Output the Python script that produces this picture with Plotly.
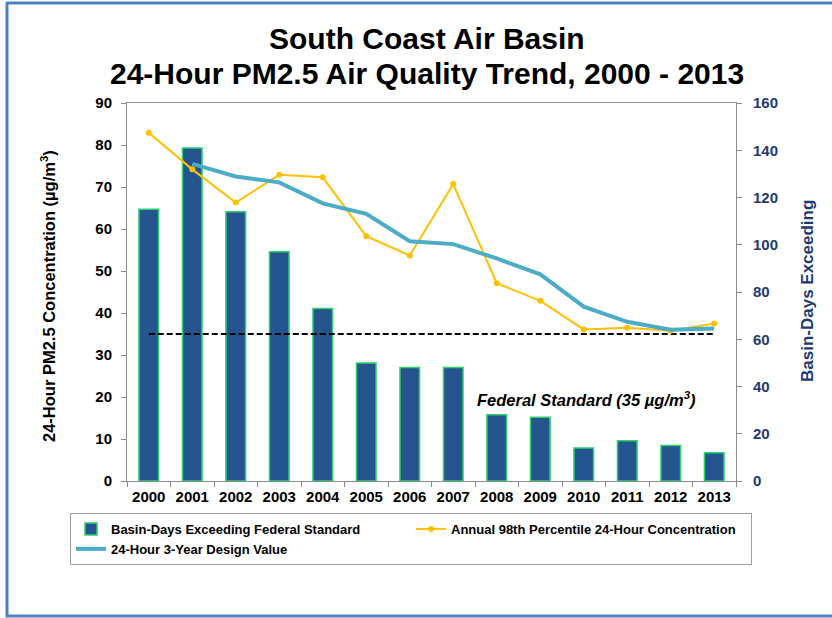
import plotly.graph_objects as go

years = [str(y) for y in range(2000, 2014)]
basin_days = [115, 141, 114, 97, 73, 50, 48, 48, 28, 27, 14, 17, 15, 12]
annual_98th = [82.9, 74.2, 66.3, 72.9, 72.3, 58.3, 53.7, 70.7, 47.1, 42.9, 36.1, 36.5, 35.8, 37.5]
design_years = [str(y) for y in range(2001, 2014)]
design_value = [75.5, 72.5, 71.1, 66.1, 63.6, 57.1, 56.4, 53.0, 49.2, 41.5, 37.9, 36.0, 36.3]
federal_standard = 35
left_ticks = list(range(0, 91, 10))
right_ticks = list(range(0, 161, 20))

FONT = "Liberation Sans, Arial, sans-serif"
NAVY = "#1f3a6e"

fig = go.Figure()
fig.add_trace(go.Bar(
    x=years, y=basin_days, name="Basin-Days Exceeding Federal Standard",
    marker=dict(color="#25558f", line=dict(color="#2fd06a", width=1.5)),
    width=0.45, yaxis="y",
))
fig.add_trace(go.Scatter(
    x=years, y=[federal_standard] * len(years), mode="lines",
    line=dict(color="black", width=2, dash="6px,3px"), showlegend=False, yaxis="y2",
    hoverinfo="skip",
))
fig.add_trace(go.Scatter(
    x=years, y=annual_98th, name="Annual 98th Percentile 24-Hour Concentration",
    mode="lines+markers", line=dict(color="#ffc000", width=2),
    marker=dict(color="#ffc000", size=6), yaxis="y2",
))
fig.add_trace(go.Scatter(
    x=design_years, y=design_value, name="24-Hour 3-Year Design Value",
    mode="lines", line=dict(color="#4bacc6", width=4), yaxis="y2",
))


def px_x(x):
    return (x - 127) / 609


def px_y(y):
    return (481 - y) / 378


def note(text, x, y, size, color="black", angle=0):
    return dict(text=text, xref="paper", yref="paper", x=px_x(x), y=px_y(y),
                xanchor="center", yanchor="middle", showarrow=False, textangle=angle,
                font=dict(size=size, family=FONT, color=color, weight="bold"))


fig.update_layout(
    width=832, height=618,
    margin=dict(l=127, r=96, t=103, b=137, autoexpand=False),
    paper_bgcolor="white", plot_bgcolor="white",
    font=dict(family=FONT, color="black"),
    showlegend=True,
    xaxis=dict(
        type="category", categoryorder="array", categoryarray=years,
        range=[-0.5, len(years) - 0.5],
        showline=True, linecolor="#8c8c8c", linewidth=1, mirror=True,
        ticks="outside", tickson="boundaries", ticklen=5, tickcolor="#8c8c8c",
        tickfont=dict(size=15, family=FONT, color="black", weight="bold"),
        tickangle=0, ticklabelstandoff=2,
        showgrid=False, zeroline=False,
    ),
    yaxis=dict(
        side="right", range=[0, 160], tickvals=right_ticks,
        showline=True, linecolor="#8c8c8c", linewidth=1,
        ticks="outside", ticklen=5, tickcolor="#8c8c8c",
        tickfont=dict(size=15, family=FONT, color=NAVY, weight="bold"),
        ticklabelstandoff=8,
        showgrid=False, zeroline=False,
    ),
    yaxis2=dict(
        side="left", overlaying="y", range=[0, 90], tickvals=left_ticks,
        showline=True, linecolor="#8c8c8c", linewidth=1,
        ticks="outside", ticklen=5, tickcolor="#8c8c8c",
        tickfont=dict(size=15, family=FONT, color="black", weight="bold"),
        ticklabelstandoff=6,
        showgrid=False, zeroline=False,
    ),
    legend=dict(
        orientation="h", x=px_x(70), y=px_y(513), xanchor="left", yanchor="top",
        bordercolor="#a0a0a0", borderwidth=1, bgcolor="white",
        entrywidth=295, entrywidthmode="pixels",
        font=dict(size=13, family=FONT, color="black", weight="bold"),
        itemwidth=30, tracegroupgap=0,
    ),
    shapes=[dict(
        type="rect", xref="paper", yref="paper",
        x0=px_x(7), x1=px_x(840), y0=px_y(616), y1=px_y(3),
        line=dict(color="#4f81bd", width=3), layer="below",
    )],
    annotations=[
        note("South Coast Air Basin", 427, 38, 30),
        note("24-Hour PM2.5 Air Quality Trend, 2000 - 2013", 427, 73, 30),
        note("24-Hour PM2.5 Concentration (µg/m<sup>3</sup>)", 48, 296, 16.5, angle=-90),
        note("Basin-Days Exceeding", 807, 291, 17, color=NAVY, angle=-90),
        note("<i>Federal Standard (35 µg/m<sup>3</sup>)</i>", 586, 399, 16.5),
    ],
)

fig.write_html("out.html")
